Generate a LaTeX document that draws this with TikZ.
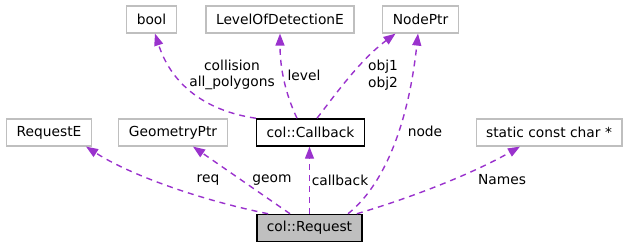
\documentclass[tikz,border=0pt]{standalone}
\usepackage{fontspec}
\setmainfont{DejaVu Sans}
\usepackage{tikz}
\usepackage{xcolor}
\usetikzlibrary{arrows.meta, positioning, calc}
\definecolor{cEdge}{RGB}{154,50,205}
\definecolor{cBorder}{RGB}{191,191,191}
\definecolor{cFocus}{RGB}{191,191,191}
\tikzset{
	cls/.style     ={rectangle, draw=cBorder, line width=1.2pt, minimum height=27pt, inner xsep=10pt, inner ysep=0pt, fill=white},
	clsref/.style  ={cls, draw=black, line width=1.5pt},
	clsfocus/.style={cls, draw=black, line width=1.5pt, fill=cFocus},
	rel/.style     ={cEdge, line width=1.4pt, dash pattern=on 6pt off 5pt, -{Triangle[length=12pt,width=9pt]}},
	lbl/.style     ={inner sep=0pt, align=center},
}

\begin{document}
\begin{tikzpicture}[x=1pt, y=-1pt, font=\fontsize{13.8}{16.5}\selectfont]
	\useasboundingbox (0,0) rectangle (629,248);
	% top row
	\node[cls] (bool) at (151.5,19.5) {bool};
	\node[cls] (lod)  at (280,19.5)   {LevelOfDetectionE};
	\node[cls] (np)   at (420.5,19.5) {NodePtr};
	% middle row
	\node[cls]    (reqe) at (49,132.5)  {RequestE};
	\node[cls]    (geo)  at (173,132.5) {GeometryPtr};
	\node[clsref] (cb)   at (310.5,132.5) {col::Callback};
	\node[cls]    (scc)  at (549,132.5) {static const char *};
	% focus class
	\node[clsfocus] (rq) at (309.5,228) {col::Request};
	% members of col::Callback
	\draw[rel] (cb.north west) .. controls (200,110) and (170,80) .. ([xshift=3.5pt]bool.south);
	\draw[rel] ([xshift=-13.5pt]cb.north) .. controls (286,95) and (280,70) .. (lod.south);
	\draw[rel] ([xshift=6.5pt]cb.north) .. controls (335,95) and (360,60) .. ([xshift=-25pt]np.south);
	\node[lbl] (lcoll) at (232,75) {collision\\all\_polygons};
	\node[lbl] (llev)  at (304,75) {level};
	\node[lbl, align=left] (lobj) at (383,75) {obj1\\obj2};
	% members of col::Request
	\draw[rel] ([xshift=12pt]rq.north west) .. controls (200,200) and (130,175) .. ([xshift=37pt]reqe.south);
	\draw[rel] ([xshift=-19.5pt]rq.north) -- ([xshift=20pt]geo.south);
	\draw[rel] (rq.north) -- (rq.north |- cb.south);
	\draw[rel] ([xshift=38.5pt]rq.north) .. controls (390,180) and (410,110) .. ([xshift=-2.5pt]np.south);
	\draw[rel] ([xshift=-6pt]rq.north east) .. controls (410,198) and (470,175) .. ([xshift=-29pt]scc.south);
	\node[lbl] (lreq)   at (208,180) {req};
	\node[lbl] (lgeom)  at (272,180) {geom};
	\node[lbl] (lcb)    at (340,180) {callback};
	\node[lbl] (lnode)  at (425,131) {node};
	\node[lbl] (lnames) at (502,180) {Names};
\end{tikzpicture}
\end{document}
